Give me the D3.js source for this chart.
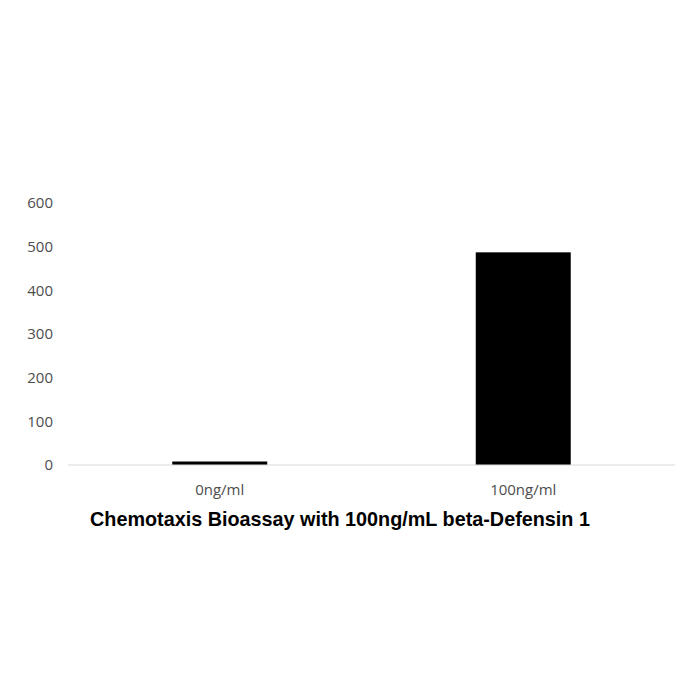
<!DOCTYPE html>
<html><head><meta charset="utf-8">
<script src="https://cdn.jsdelivr.net/npm/d3@7"></script>
<style>body{margin:0;background:#fff}</style>
</head><body>
<script>
const categories = ["0ng/ml", "100ng/ml"];
const values = [8, 487];
const yTicks = [0, 100, 200, 300, 400, 500, 600];
const title = "Chemotaxis Bioassay with 100ng/mL beta-Defensin 1";

const W = 700, H = 700;
const svg = d3.select("body").append("svg").attr("width", W).attr("height", H);

const x = d3.scaleBand().domain(categories).range([68, 675]).paddingInner(0.687).paddingOuter(0.3435);
const y = d3.scaleLinear().domain([0, 600]).range([465, 203]);

// y tick labels
svg.append("g").selectAll("text").data(yTicks).join("text")
  .attr("x", 53).attr("y", d => y(d)).attr("dy", "0.35em")
  .attr("text-anchor", "end")
  .attr("font-family", "Open Sans, Liberation Sans, sans-serif")
  .attr("font-size", 15).attr("fill", "#4d4d4d")
  .text(d => d);

// bars
svg.append("g").selectAll("rect").data(values).join("rect")
  .attr("x", (d, i) => x(categories[i]))
  .attr("width", x.bandwidth())
  .attr("y", d => y(d))
  .attr("height", d => y(0) - y(d))
  .attr("fill", "#000");

// baseline
svg.append("line").attr("x1", 68).attr("x2", 675).attr("y1", y(0)).attr("y2", y(0))
  .attr("stroke", "#d9d9d9").attr("stroke-width", 1.2);

// x labels
svg.append("g").selectAll("text").data(categories).join("text")
  .attr("x", d => x(d) + x.bandwidth() / 2).attr("y", 490).attr("dy", "0.35em")
  .attr("text-anchor", "middle")
  .attr("font-family", "Open Sans, Liberation Sans, sans-serif")
  .attr("font-size", 15).attr("fill", "#4d4d4d")
  .text(d => d);

// title
svg.append("text").attr("x", 340).attr("y", 526)
  .attr("text-anchor", "middle")
  .attr("font-family", "Liberation Sans, Arial, sans-serif")
  .attr("font-weight", "bold").attr("font-size", 19.8).attr("fill", "#000")
  .text(title);
</script>
</body></html>
